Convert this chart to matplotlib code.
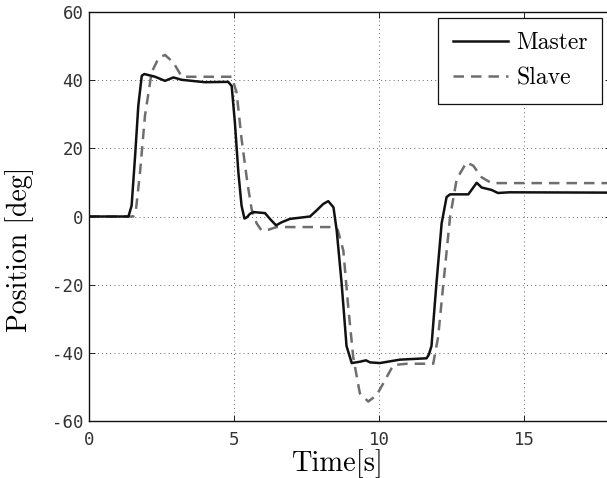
import matplotlib
matplotlib.use("Agg")
import matplotlib.pyplot as plt

master_t = [0, 1.36, 1.47, 1.59, 1.70, 1.82, 1.91, 2.28, 2.62, 2.91, 3.20, 4.00, 4.80, 4.92,
            5.03, 5.15, 5.26, 5.36, 5.45, 5.55, 5.67, 6.07, 6.24, 6.45, 6.64, 6.93, 7.62,
            7.85, 8.08, 8.25, 8.43, 8.54, 8.71, 8.88, 9.06, 9.35, 9.55, 9.69, 10.03, 10.72,
            11.64, 11.72, 11.81, 11.98, 12.16, 12.33, 12.45, 13.08, 13.25, 13.37, 13.54,
            13.88, 14.10, 14.5, 18]
master_y = [0, 0, 3.2, 17.8, 32.5, 41.3, 41.8, 41.0, 39.8, 40.8, 40.1, 39.4, 39.5, 38.3,
            27.6, 13.0, 3.2, -0.6, -0.2, 0.8, 1.3, 1.0, -0.7, -2.6, -1.7, -0.7, 0.0,
            1.8, 3.7, 4.5, 2.7, -4.0, -19.5, -38.0, -43.0, -42.6, -42.2, -42.8, -43.0, -42.0,
            -41.6, -40.5, -38.0, -19.7, -2.0, 5.7, 6.5, 6.5, 8.5, 9.9, 8.5,
            7.8, 6.9, 7.1, 7.0]

slave_t = [0, 1.53, 1.62, 1.76, 1.93, 2.16, 2.40, 2.62, 2.91, 3.20, 3.54, 4.92, 5.09, 5.26,
           5.46, 5.61, 5.78, 5.95, 6.18, 6.47, 8.50, 8.58, 8.77, 8.94, 9.11, 9.34, 9.63,
           9.92, 10.21, 10.49, 10.95, 11.87, 12.04, 12.22, 12.45, 12.68, 13.02, 13.25,
           13.54, 13.88, 18]
slave_y = [0, 0, 2.0, 13.0, 29.6, 42.3, 46.5, 47.4, 45.2, 41.0, 41.0, 41.0, 36.4, 22.8,
           10.0, 2.0, -2.0, -4.1, -3.9, -3.1, -3.1, -4.0, -10.0, -26.6, -41.2, -51.9, -54.3,
           -52.4, -48.0, -43.6, -43.2, -43.2, -35.3, -19.7, -0.2, 11.0, 15.9, 14.9,
           11.5, 9.8, 9.8]

xticks = [0, 5, 10, 15]
xtick_labels = ["0", "5", "10", "15"]
yticks = [-60, -40, -20, 0, 20, 40, 60]
ytick_labels = ["-60", "-40", "-20", "0", "20", "40", "60"]

fig = plt.figure(figsize=(6.07, 4.78), dpi=100)
ax = fig.add_axes([89/607, 1-421/478, (611-89)/607, (421-12)/478])

ax.plot(master_t, master_y, color="#111111", lw=1.8, label="Master", zorder=3)
ax.plot(slave_t, slave_y, color="#6e6e6e", lw=1.8, dashes=(4.2, 2.8), label="Slave", zorder=2)

ax.set_xlim(0, 18)
ax.set_ylim(-60, 60)
ax.set_xticks(xticks)
ax.set_xticklabels(xtick_labels)
ax.set_yticks(yticks)
ax.set_yticklabels(ytick_labels)
ax.tick_params(direction="in", length=4, width=0.6, top=True, right=True,
               labelsize=12.5, labelcolor="#333333")
ax.tick_params(axis="x", pad=7)
ax.tick_params(axis="y", pad=4)
for lab in ax.get_xticklabels() + ax.get_yticklabels():
    lab.set_fontfamily("DejaVu Sans Mono")
ax.grid(True, linestyle=(0, (1, 4)), color="#333333", lw=0.6)
for s in ax.spines.values():
    s.set_linewidth(1.0)
    s.set_color("#111111")

ax.set_xlabel("Time[s]", fontfamily="cmr10", fontsize=20.5)
ax.xaxis.set_label_coords((337-89)/522, (421-449)/409)
ax.set_ylabel("Position [deg]", fontfamily="cmr10", fontsize=20)
ax.yaxis.set_label_coords((34-89)/522, (421-249)/409)

leg = ax.legend(loc="upper right", bbox_to_anchor=(602/607, 1-18/478), bbox_transform=fig.transFigure,
                prop={"family": "cmr10", "size": 17}, fancybox=False, framealpha=1,
                edgecolor="#111111", handlelength=2.35, borderpad=0.6, labelspacing=0.55,
                handletextpad=0.35, borderaxespad=0)
leg.get_frame().set_linewidth(0.9)

fig.savefig("out.png", dpi=100)
